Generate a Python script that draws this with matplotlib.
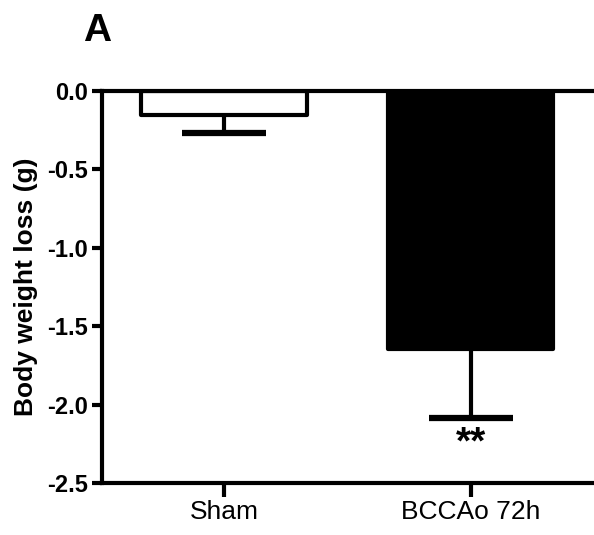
import matplotlib.pyplot as plt
import numpy as np

# data
groups = ["Sham", "BCCAo 72h"]
means = [-0.153, -1.643]
sem = [0.114, 0.44]
fills = ["white", "black"]
yticks = [0.0, -0.5, -1.0, -1.5, -2.0, -2.5]

plt.rcParams['font.family'] = ['Liberation Sans', 'DejaVu Sans']

fig = plt.figure(figsize=(5.94, 5.35), dpi=100)
ax = fig.add_axes([0.1717, 0.0972, 0.8283, 0.7327])

x = np.arange(len(groups))
lower = np.array(means) - np.array(sem)
ax.bar(x, means, width=0.67, color=fills, edgecolor="black", linewidth=3,
       joinstyle="round", zorder=2)
# one-sided error bars: stem down from the bar end, cap at the bottom only
ax.vlines(x, lower, means, color="black", linewidth=3, zorder=3)
ax.plot(x, lower, linestyle="none", marker="_", markersize=61,
        markeredgewidth=4.5, color="black", zorder=3)

# significance mark under the BCCAo error bar
ax.annotate("**", xy=(x[1], lower[1]), xytext=(0, -26),
            textcoords="offset points", ha="center", va="baseline",
            fontsize=28, fontweight="bold")

ax.set_xlim(-0.494, 1.5)
ax.set_ylim(-2.5, 0)
ax.set_yticks(yticks)
ax.set_yticklabels([f"{v:.1f}" for v in yticks], fontsize=17, fontweight="bold")
ax.set_xticks(x)
ax.set_xticklabels(groups, fontsize=19)
ax.set_ylabel("Body weight loss (g)", fontsize=19, fontweight="bold", labelpad=7)

ax.spines["right"].set_visible(False)
for s in ["left", "top", "bottom"]:
    ax.spines[s].set_linewidth(3)
ax.tick_params(axis="y", length=7, width=3, pad=3)
ax.tick_params(axis="x", length=10, width=3, pad=2)

fig.text(0.163, 0.923, "A", fontsize=28, fontweight="bold", ha="center",
         va="baseline")

fig.savefig("out.png", dpi=100)
